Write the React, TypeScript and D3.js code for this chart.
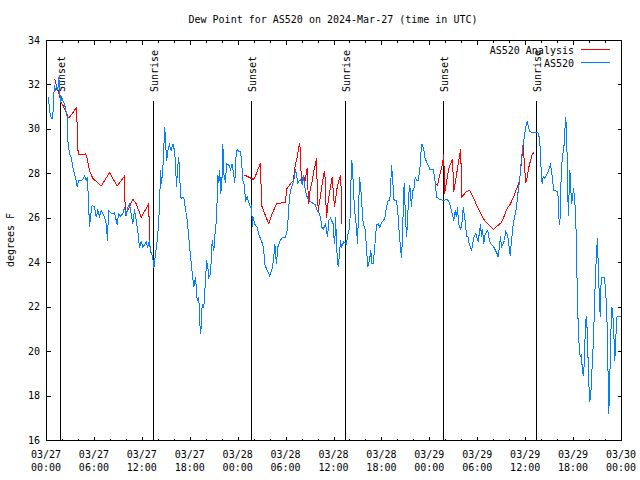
import React from "react";
import * as d3 from "d3";

const title = "Dew Point for AS520 on 2024-Mar-27 (time in UTC)";
const yLabel = "degrees F";
const seriesNames = ["AS520 Analysis", "AS520"];
const seriesColors = ["#ff0000", "#0080ff"];

const yTicks = [16, 18, 20, 22, 24, 26, 28, 30, 32, 34];
const xTickHours = [0, 6, 12, 18, 24, 30, 36, 42, 48, 54, 60, 66, 72];
const xTickDates = ["03/27", "03/27", "03/27", "03/27", "03/28", "03/28", "03/28", "03/28", "03/29", "03/29", "03/29", "03/29", "03/30"];
const xTickTimes = ["00:00", "06:00", "12:00", "18:00", "00:00", "06:00", "12:00", "18:00", "00:00", "06:00", "12:00", "18:00", "00:00"];

const sunLabels = ["Sunset", "Sunrise", "Sunset", "Sunrise", "Sunset", "Sunrise"];
const sunHours = [1.79, 13.44, 25.71, 37.48, 49.75, 61.4];

// hours since 2024-03-27 00:00 UTC, dew point (F)
const as520: [number, number][] = [
  [0.25,31.45],[0.38,30.85],[0.59,30.5],[0.79,30.5],[0.88,31.4],[1.00,32.0],[1.13,31.75],[1.25,32.0],[1.42,31.8],[1.54,32.35],[1.67,31.7],[1.75,31.2],[1.92,31.45],[2.04,31.3],[2.25,31.15],[2.42,30.85],[2.59,30.55],[2.67,29.5],[2.88,28.9],[3.09,28.75],[3.29,28.3],[3.51,28.0],[3.72,27.7],[3.84,27.4],[4.01,27.7],[4.35,27.7],[4.63,27.8],[4.76,27.9],[4.97,27.7],[5.10,27.85],[5.26,26.8],[5.38,25.6],[5.51,26.05],[5.72,26.6],[6.01,26.5],[6.22,26.05],[6.42,26.35],[6.64,26.1],[6.85,26.35],[7.05,26.2],[7.26,26.05],[7.48,25.75],[7.64,25.0],[7.76,26.35],[8.01,26.25],[8.30,26.2],[8.52,26.25],[8.73,25.9],[8.85,25.7],[9.02,26.2],[9.27,26.1],[9.55,26.2],[9.77,26.5],[9.98,26.1],[10.18,26.5],[10.39,26.65],[10.61,26.2],[10.81,25.75],[11.02,26.4],[11.23,25.9],[11.43,25.45],[11.65,24.65],[11.86,24.95],[12.06,24.7],[12.27,24.8],[12.48,24.95],[12.68,24.7],[12.90,25.0],[13.02,24.5],[13.19,24.4],[13.36,24.1],[13.44,23.75],[13.61,24.3],[13.77,24.7],[13.94,25.3],[14.15,26.5],[14.28,28.15],[14.40,27.55],[14.56,28.15],[14.69,29.2],[14.81,30.1],[14.94,29.2],[15.06,28.6],[15.19,29.05],[15.40,29.3],[15.62,29.05],[15.82,29.35],[16.03,29.05],[16.15,28.45],[16.28,27.4],[16.40,28.15],[16.53,28.75],[16.65,28.3],[16.78,26.95],[16.94,26.9],[17.19,26.95],[17.37,26.5],[17.62,25.9],[17.78,25.3],[17.94,24.65],[18.12,24.0],[18.24,23.55],[18.44,22.9],[18.66,23.35],[18.87,22.3],[19.07,22.45],[19.20,21.25],[19.32,20.8],[19.50,22.15],[19.70,22.0],[19.78,22.45],[19.91,23.2],[20.04,24.1],[20.20,23.8],[20.32,23.35],[20.54,23.5],[20.75,25.0],[20.95,24.55],[21.16,25.6],[21.29,25.9],[21.45,27.95],[21.58,27.6],[21.70,28.15],[21.79,27.1],[21.95,27.4],[22.08,29.35],[22.20,28.0],[22.41,27.6],[22.54,28.45],[22.83,28.4],[23.04,28.2],[23.25,28.45],[23.58,27.6],[23.75,28.9],[23.88,29.1],[24.08,29.0],[24.29,29.0],[24.42,28.6],[24.58,27.7],[24.71,27.6],[24.83,27.2],[24.92,26.8],[25.13,26.95],[25.33,26.7],[25.55,26.5],[25.67,26.6],[25.80,25.6],[25.88,26.05],[26.05,25.75],[26.38,25.6],[26.55,25.3],[26.89,25.0],[27.05,24.85],[27.21,24.55],[27.30,23.95],[27.64,23.65],[27.84,23.5],[27.96,23.4],[28.30,23.8],[28.46,24.25],[28.59,24.85],[28.71,24.25],[28.80,23.95],[28.96,24.7],[29.21,24.95],[29.55,25.15],[29.93,25.15],[30.14,25.45],[30.27,26.05],[30.39,26.8],[30.55,27.25],[30.77,27.5],[30.97,27.7],[31.18,28.2],[31.47,27.6],[31.81,27.75],[32.02,27.5],[32.14,27.95],[32.43,27.2],[32.65,26.95],[32.90,26.8],[33.27,26.7],[33.68,26.6],[33.90,26.35],[34.10,26.25],[34.31,26.05],[34.47,25.6],[34.65,25.5],[34.94,25.75],[35.19,25.15],[35.35,25.9],[35.56,26.0],[35.90,25.75],[35.98,25.15],[36.10,24.85],[36.19,26.05],[36.40,24.25],[36.53,23.8],[36.69,24.4],[36.81,25.0],[36.94,24.7],[37.23,24.95],[37.56,24.85],[37.69,25.2],[37.98,25.6],[38.11,27.55],[38.23,28.6],[38.36,27.95],[38.48,26.95],[38.66,26.05],[38.82,25.6],[38.94,24.85],[39.07,26.2],[39.19,27.85],[39.45,26.95],[39.57,26.05],[39.70,25.7],[39.86,25.6],[39.98,25.15],[40.11,24.4],[40.23,23.8],[40.48,24.2],[40.61,24.55],[40.73,23.95],[40.91,23.95],[41.03,24.4],[41.20,25.15],[41.32,25.7],[41.54,25.75],[41.74,25.6],[41.95,25.8],[42.16,25.9],[42.36,26.0],[42.57,26.5],[42.79,26.8],[42.99,26.8],[43.11,27.55],[43.20,28.4],[43.33,27.85],[43.49,26.85],[43.61,26.8],[43.83,26.8],[44.04,26.05],[44.17,25.3],[44.29,24.85],[44.45,24.2],[44.58,25.15],[44.67,26.5],[44.79,27.6],[44.92,26.35],[45.08,25.15],[45.20,25.75],[45.33,26.95],[45.49,27.5],[45.71,26.5],[45.83,27.25],[45.99,27.25],[46.17,27.85],[46.33,27.7],[46.54,27.7],[46.74,28.15],[46.87,28.9],[47.00,29.35],[47.25,29.1],[47.37,28.75],[47.67,28.45],[47.80,28.4],[48.00,28.2],[48.42,28.2],[48.55,27.95],[48.71,27.5],[48.84,26.95],[49.05,26.9],[49.25,26.85],[49.67,26.8],[50.09,26.85],[50.30,26.8],[50.50,26.65],[50.71,26.35],[51.00,25.9],[51.18,26.35],[51.34,26.05],[51.47,26.5],[51.59,25.75],[51.88,25.5],[52.05,25.9],[52.18,26.5],[52.47,25.75],[52.59,25.2],[52.81,25.15],[52.93,24.85],[53.09,24.7],[53.22,24.55],[53.51,25.15],[53.76,25.3],[54.06,24.95],[54.35,25.75],[54.47,25.15],[54.60,25.5],[54.76,24.85],[54.93,25.3],[55.26,25.45],[55.39,25.15],[55.60,24.85],[55.81,24.8],[56.01,24.7],[56.44,24.4],[56.56,24.25],[56.85,25.2],[56.98,24.7],[57.35,25.0],[57.48,25.45],[57.76,25.2],[57.94,24.7],[58.07,24.3],[58.19,24.85],[58.32,25.3],[58.44,25.75],[58.64,26.1],[58.85,26.5],[59.02,27.1],[59.19,27.55],[59.32,28.0],[59.44,28.55],[59.57,29.0],[59.69,29.35],[59.82,29.6],[59.94,29.95],[60.07,30.2],[60.19,30.35],[60.36,30.1],[60.52,29.9],[60.82,29.85],[61.23,29.85],[61.52,29.85],[61.70,29.65],[61.86,29.0],[61.95,28.0],[62.07,27.55],[62.20,27.9],[62.36,27.8],[62.70,28.0],[62.82,28.1],[63.11,28.4],[63.24,28.15],[63.52,27.25],[63.74,27.25],[63.95,27.2],[64.07,26.95],[64.15,26.05],[64.28,25.7],[64.36,26.65],[64.45,28.0],[64.57,28.65],[64.83,29.35],[64.90,29.95],[65.03,30.55],[65.15,29.35],[65.24,28.15],[65.33,26.1],[65.45,27.25],[65.53,28.15],[65.62,27.6],[65.74,26.65],[65.87,26.95],[65.99,27.35],[66.12,26.95],[66.24,26.2],[66.37,24.85],[66.45,22.75],[66.58,21.2],[66.70,20.2],[66.83,19.75],[66.96,19.9],[67.08,19.3],[67.21,18.9],[67.33,19.4],[67.46,20.9],[67.58,21.6],[67.71,20.95],[67.78,20.05],[67.91,18.55],[68.03,17.75],[68.16,18.1],[68.28,19.0],[68.41,19.9],[68.54,21.1],[68.66,22.6],[68.79,23.8],[68.91,24.65],[69.00,25.1],[69.09,23.8],[69.21,22.6],[69.34,21.55],[69.46,23.35],[69.87,23.35],[70.04,22.6],[70.21,21.1],[70.34,18.55],[70.41,17.2],[70.54,18.85],[70.66,20.8],[70.79,22.0],[70.91,21.7],[71.04,20.8],[71.16,19.6],[71.41,21.55],[71.88,21.6]
];

// analysis series; null marks a gap
const as520Analysis: [number, number | null][] = [
  [0.91,32.25],[1.13,32.2],[1.29,31.8],[1.50,31.7],[1.67,31.45],[1.84,31.2],[2.04,31.1],[2.25,30.9],[2.50,30.75],[2.67,30.55],[2.88,30.55],[3.09,30.65],[3.79,31.0],[3.84,29.95],[3.97,28.85],[4.35,28.85],[4.88,28.9],[5.10,28.7],[5.38,28.15],[5.80,27.8],[6.85,27.45],[7.89,28.05],[8.85,27.45],[9.77,27.9],[9.80,26.95],[9.93,26.1],[10.11,26.3],[10.81,26.85],[11.23,26.65],[11.86,26.05],[12.81,26.65],[12.86,25.6],[12.94,24.7],
  [18.0,null],
  [24.79,27.95],[25.33,27.85],[25.88,27.75],[26.05,27.8],[26.80,28.5],[26.92,26.6],[27.21,26.3],[27.84,25.75],[28.26,26.2],[28.80,26.65],[29.52,26.7],[29.93,26.7],[30.05,27.3],[30.55,27.55],[30.89,27.7],[31.18,28.45],[31.39,28.75],[31.59,29.2],[31.72,29.4],[31.84,28.45],[31.93,27.55],[32.09,27.6],[32.22,27.95],[32.34,27.6],[32.52,28.0],[32.65,28.25],[32.72,27.4],[32.85,26.65],[32.97,27.2],[33.31,27.75],[33.47,28.15],[33.68,28.45],[33.81,28.7],[33.90,27.4],[34.02,26.35],[34.22,26.8],[34.52,27.55],[34.72,28.0],[34.85,28.1],[35.06,26.0],[35.19,26.5],[35.35,26.95],[35.56,27.4],[35.78,27.85],[36.06,26.5],[36.40,27.4],[36.61,27.7],[36.73,27.85],[36.86,27.95],[36.94,25.75],
  [42.0,null],
  [48.71,27.55],[48.96,27.5],[49.25,27.95],[49.59,28.45],[49.75,28.9],[49.84,27.1],[50.18,27.85],[50.43,28.3],[50.59,28.45],[50.84,28.65],[51.00,27.2],[51.34,27.95],[51.55,28.45],[51.75,28.9],[51.88,29.1],[51.96,26.95],[52.59,27.2],[53.01,27.25],[53.43,26.95],[53.85,26.6],[54.26,26.3],[54.68,26.0],[54.97,25.85],[55.39,25.7],[55.94,25.5],[56.44,25.65],[56.94,25.8],[57.26,26.05],[57.69,26.45],[58.10,26.65],[58.52,27.0],[58.94,27.4],[59.23,27.7],[59.36,28.1],[59.48,28.6],[59.61,29.0],[59.73,29.35],[59.82,28.45],[60.02,27.6],[60.19,27.85],[60.40,28.3],[60.61,28.6],[60.82,28.9],[61.02,28.95]
];

const L = 46, R = 621, T = 40, B = 440;
const FONT = "'DejaVu Sans Mono', 'Liberation Mono', monospace";

export default function App() {
  const x = d3.scaleLinear().domain([0, 72]).range([L, R]);
  const y = d3.scaleLinear().domain([16, 34]).range([B, T]);
  const minorHours = d3.range(0, 73, 2).filter((h) => h % 6 !== 0);

  const line = d3
    .line<[number, number | null]>()
    .defined((d) => d[1] !== null)
    .x((d) => x(d[0]))
    .y((d) => y(d[1] as number));

  const markTop = B - 0.85 * (B - T);
  const labelBase = B - 0.87 * (B - T);

  return (
    <svg
      width={640}
      height={480}
      style={{ position: "absolute", left: 0, top: 0, background: "#fff" }}
      fontFamily={FONT}
      fontSize={10}
    >
      <rect x={0} y={0} width={640} height={480} fill="#fff" />
      <text x={333} y={23} textAnchor="middle" fill="#000">{title}</text>
      <text transform={`translate(14,240) rotate(-90)`} textAnchor="middle" fill="#000">{yLabel}</text>

      <g transform="translate(0.5,0.5)" shapeRendering="crispEdges" stroke="#000" strokeWidth={1}>
        {yTicks.map((v) => (
          <g key={"y" + v}>
            <line x1={L} x2={L + 4} y1={Math.round(y(v))} y2={Math.round(y(v))} />
            <line x1={R - 4} x2={R} y1={Math.round(y(v))} y2={Math.round(y(v))} />
          </g>
        ))}
        {xTickHours.map((h) => (
          <g key={"x" + h}>
            <line x1={Math.round(x(h))} x2={Math.round(x(h))} y1={B} y2={B - 4} />
            <line x1={Math.round(x(h))} x2={Math.round(x(h))} y1={T} y2={T + 4} />
          </g>
        ))}
        {minorHours.map((h) => (
          <g key={"m" + h}>
            <line x1={Math.round(x(h))} x2={Math.round(x(h))} y1={B} y2={B - 2} />
            <line x1={Math.round(x(h))} x2={Math.round(x(h))} y1={T} y2={T + 2} />
          </g>
        ))}
        {sunHours.map((h, i) => (
          <line key={"s" + i} x1={Math.round(x(h))} x2={Math.round(x(h))} y1={B} y2={Math.round(markTop)} />
        ))}
      </g>

      {yTicks.map((v) => (
        <text key={"yl" + v} x={40} y={y(v) + 3.6} textAnchor="end" fill="#000">{v}</text>
      ))}
      {xTickHours.map((h, i) => (
        <g key={"xl" + h}>
          <text x={x(h)} y={458} textAnchor="middle" fill="#000">{xTickDates[i]}</text>
          <text x={x(h)} y={471} textAnchor="middle" fill="#000">{xTickTimes[i]}</text>
        </g>
      ))}
      {sunHours.map((h, i) => (
        <text
          key={"sl" + i}
          transform={`translate(${Math.round(x(h)) + 5},${labelBase}) rotate(-90)`}
          textAnchor="start"
          fill="#000"
        >
          {sunLabels[i]}
        </text>
      ))}

      <g transform="translate(0.5,0.5)" fill="none" strokeWidth={1} shapeRendering="crispEdges">
        <path d={line(as520Analysis) || ""} stroke={seriesColors[0]} />
        <path d={line(as520 as [number, number | null][]) || ""} stroke={seriesColors[1]} />
      </g>

      <text x={574} y={54} textAnchor="end" fill="#000">{seriesNames[0]}</text>
      <line x1={581} x2={610} y1={49.5} y2={49.5} stroke={seriesColors[0]} shapeRendering="crispEdges" />
      <text x={574} y={67} textAnchor="end" fill="#000">{seriesNames[1]}</text>
      <line x1={581} x2={610} y1={62.5} y2={62.5} stroke={seriesColors[1]} shapeRendering="crispEdges" />

      <rect x={L + 0.5} y={T + 0.5} width={R - L} height={B - T} fill="none" stroke="#000" shapeRendering="crispEdges" />
    </svg>
  );
}
